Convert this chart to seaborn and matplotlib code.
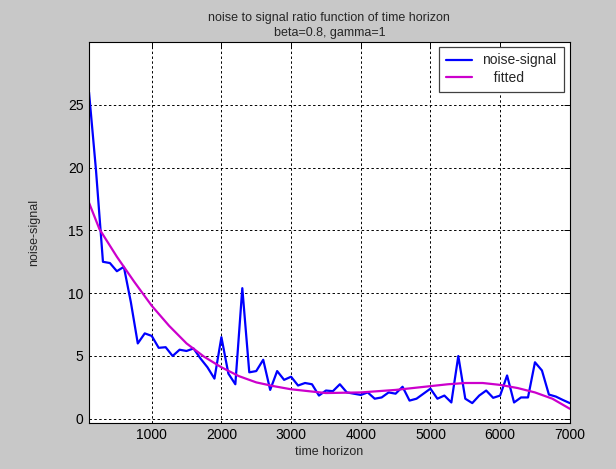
import matplotlib
matplotlib.use("Agg")
import matplotlib.pyplot as plt
import seaborn as sns

# time horizon sampled every 100 steps
horizon = list(range(100, 7001, 100))
noise_signal = [
    26.0, 19.8, 12.5, 12.4, 11.75, 12.1, 9.3, 6.0, 6.8, 6.6,
    5.65, 5.7, 5.0, 5.5, 5.4, 5.6, 4.8, 4.1, 3.2, 6.5,
    3.6, 2.75, 10.4, 3.7, 3.8, 4.7, 2.3, 3.8, 3.1, 3.35,
    2.65, 2.85, 2.75, 1.85, 2.25, 2.2, 2.75, 2.1, 2.0, 1.9,
    2.1, 1.6, 1.7, 2.1, 2.0, 2.55, 1.45, 1.6, 2.0, 2.4,
    1.6, 1.85, 1.3, 5.0, 1.6, 1.25, 1.85, 2.25, 1.67, 1.85,
    3.45, 1.3, 1.7, 1.7, 4.5, 3.85, 1.93, 1.77, 1.5, 1.25,
]

# fitted curve
fit_horizon = [100, 250, 500, 750, 1000, 1250, 1500, 1750, 2000, 2250, 2500,
               2750, 3000, 3500, 4000, 4500, 4750, 5000, 5250, 5500, 5750,
               6000, 6250, 6500, 6750, 7000]
fitted = [17.2, 15.1, 12.9, 10.9, 9.0, 7.4, 6.0, 4.95, 4.1, 3.4, 2.9,
          2.6, 2.35, 2.05, 2.1, 2.3, 2.45, 2.6, 2.75, 2.85, 2.85,
          2.7, 2.45, 2.1, 1.6, 0.8]

xticks = [1000, 2000, 3000, 4000, 5000, 6000, 7000]
yticks = [0, 5, 10, 15, 20, 25]

sns.set_style("white")
plt.rcParams["font.family"] = ["Liberation Sans", "DejaVu Sans"]

fig = plt.figure(figsize=(6.16, 4.69), dpi=100, facecolor="#c8c8c8")
ax = fig.add_axes([0.1445, 0.099, 0.7805, 0.8115])

sns.lineplot(x=horizon, y=noise_signal, color="#0000ff", linewidth=1.6,
             label="noise-signal", ax=ax)
sns.lineplot(x=fit_horizon, y=fitted, color="#cc00cc", linewidth=1.6,
             label="   fitted", ax=ax)

ax.set_xlim(100, 7000)
ax.set_ylim(-0.3, 30)
ax.set_xticks(xticks)
ax.set_yticks(yticks)
ax.grid(True, color="black", linestyle=(0, (2.5, 2.5)), linewidth=0.7)
ax.tick_params(direction="in", length=4, width=0.7, labelsize=10,
               top=True, right=True, colors="black", pad=4)
for s in ax.spines.values():
    s.set_color("black")
    s.set_linewidth(0.8)

ax.set_xlabel("time horizon", fontsize=9, labelpad=3)
ax.set_ylabel("noise-signal", fontsize=9, labelpad=20)
ax.set_title("noise to signal ratio function of time horizon\nbeta=0.8, gamma=1",
             fontsize=9, linespacing=1.35, pad=4)

leg = ax.legend(loc="upper right", bbox_to_anchor=(0.987, 0.988), borderaxespad=0,
                fontsize=10, frameon=True, fancybox=False, framealpha=1,
                edgecolor="#404040", handlelength=1.9, handletextpad=0.75,
                borderpad=0.5, labelspacing=0.25)
leg.get_frame().set_linewidth(0.9)

fig.savefig("out.png", dpi=100, facecolor=fig.get_facecolor())
plt.close(fig)
